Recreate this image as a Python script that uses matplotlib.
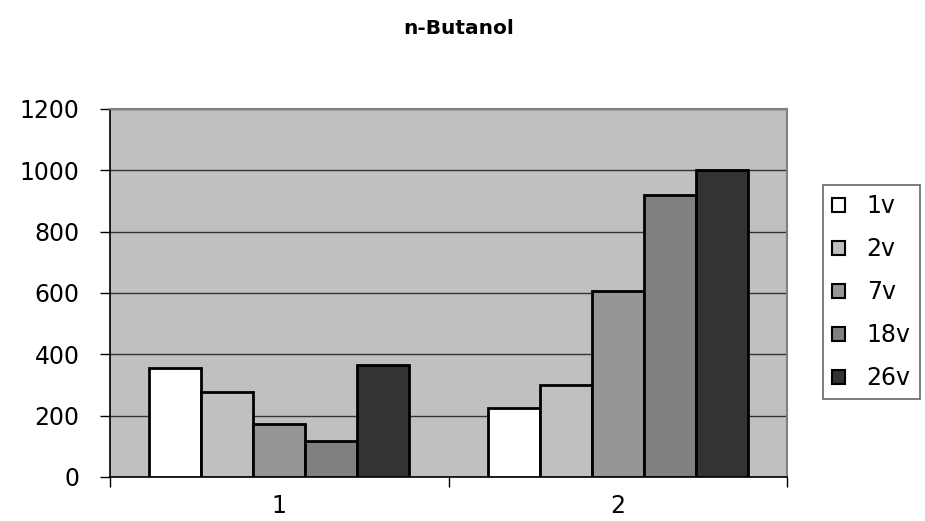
import matplotlib
matplotlib.use("Agg")
import matplotlib.pyplot as plt
import numpy as np

plt.rcParams['font.family'] = ['DejaVu Sans']

categories = ["1", "2"]
series_names = ["1v", "2v", "7v", "18v", "26v"]
values = {
    "1v": [356, 226],
    "2v": [277, 299],
    "7v": [174, 606],
    "18v": [116, 921],
    "26v": [365, 1000],
}
colors = ["#FFFFFF", "#C0C0C0", "#969696", "#808080", "#333333"]
yticks = [0, 200, 400, 600, 800, 1000, 1200]

W, H = 925, 521
fig = plt.figure(figsize=(W / 100, H / 100), dpi=100)
x0, x1 = 110, 787
y0, y1 = 109, 477
ax = fig.add_axes([x0 / W, 1 - y1 / H, (x1 - x0) / W, (y1 - y0) / H])
ax.set_facecolor("#C0C0C0")

n = len(series_names)
gap = 1.5
w = 1.0 / (n + gap)
xc = np.arange(len(categories))
for i, (name, col) in enumerate(zip(series_names, colors)):
    off = (i - (n - 1) / 2) * w
    ax.bar(xc + off, values[name], width=w, color=col, edgecolor="black",
           linewidth=2, label=name, zorder=3)

ax.set_xlim(-0.5, len(categories) - 0.5)
ax.set_ylim(0, 1200)
ax.set_yticks(yticks)
ax.set_yticklabels([str(t) for t in yticks], fontsize=17)
ax.yaxis.grid(True, color="#333333", linewidth=1, zorder=1)
ax.set_axisbelow(True)

ax.set_xticks(xc)
ax.set_xticklabels(categories, fontsize=17)
ax.tick_params(axis='x', length=0, pad=12)
ax.set_xticks([-0.5, 0.5, 1.5], minor=True)
ax.tick_params(axis='x', which='minor', length=7, width=1, color="black", direction='out')
ax.tick_params(axis='y', length=7, width=1, color="black", direction='out', pad=15)

for s in ["top", "right"]:
    ax.spines[s].set_color("#808080")
    ax.spines[s].set_linewidth(1.5)
for s in ["left", "bottom"]:
    ax.spines[s].set_color("black")
    ax.spines[s].set_linewidth(1.2)

fig.text(459 / W, 1 - 28 / H, "n-Butanol", ha="center", va="center",
         fontsize=14.5, fontweight="bold")

leg = fig.legend(loc="upper left", bbox_to_anchor=(823 / W, 1 - 185 / H),
                 fontsize=17, frameon=True, fancybox=False, borderpad=0.4,
                 handlelength=0.55, handleheight=0.55, handletextpad=0.9,
                 labelspacing=0.8, borderaxespad=0)
leg.get_frame().set_edgecolor("#404040")
leg.get_frame().set_linewidth(1.2)
for p in leg.get_patches():
    p.set_linewidth(1.5)

fig.savefig("out.png", dpi=100)
